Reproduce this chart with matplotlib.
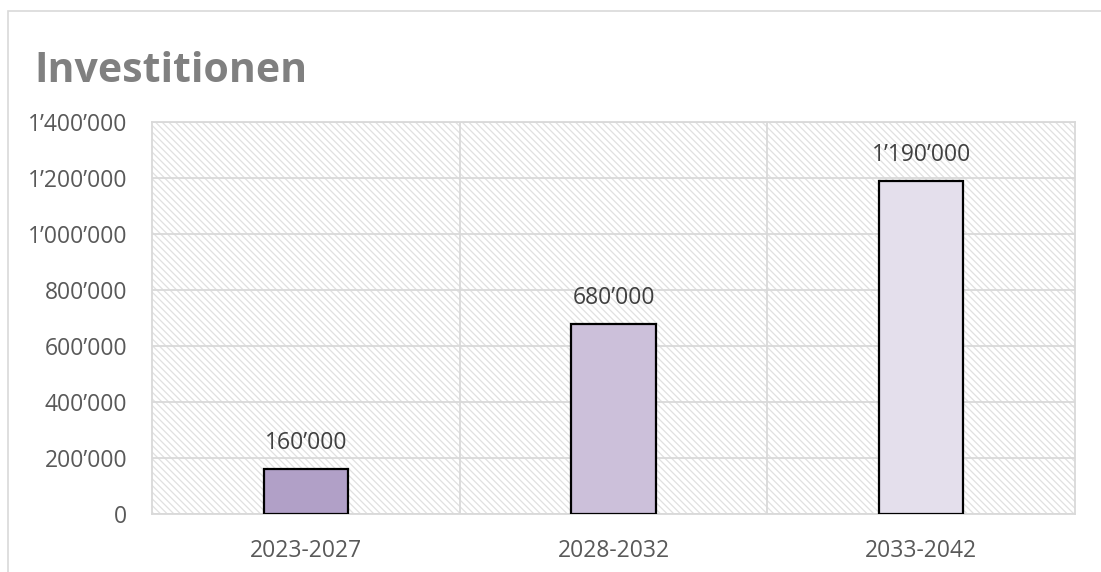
import matplotlib.pyplot as plt
from matplotlib.patches import Rectangle
from matplotlib.ticker import FuncFormatter

# Data
periods = ['2023-2027', '2028-2032', '2033-2042']
investments = [160000, 680000, 1190000]
bar_colors = ['#B1A0C7', '#CCC0DA', '#E4DFEC']

plt.rcParams['font.family'] = ['Open Sans', 'DejaVu Sans']
plt.rcParams['hatch.linewidth'] = 0.9


def swiss(v, pos=None):
    return f"{int(round(v)):,}".replace(",", "\u2019")


fig = plt.figure(figsize=(11.01, 5.72), dpi=100)
ax = fig.add_axes([152 / 1101, 1 - 514 / 572, (1075 - 152) / 1101, (514 - 122) / 572])

# outer chart frame
fig.patches.append(Rectangle((8 / 1101, -0.1), 1.2, 1 - 11 / 572 + 0.1,
                             transform=fig.transFigure, fill=False,
                             edgecolor='#D9D9D9', lw=1.2))

# hatched plot area
ax.add_patch(Rectangle((0, 0), 1, 1, transform=ax.transAxes, facecolor='white',
                       edgecolor='#E0E0E0', lw=0, hatch='\\' * 5, zorder=0))

x = range(len(periods))
bars = ax.bar(x, investments, width=0.275, color=bar_colors,
              edgecolor='black', linewidth=1.6, zorder=3)

for b, v in zip(bars, investments):
    ax.annotate(swiss(v), (b.get_x() + b.get_width() / 2, v),
                xytext=(0, 10), textcoords='offset points',
                ha='center', va='bottom', fontsize=16.5, color='#404040')

ax.set_xlim(-0.5, 2.5)
ax.set_ylim(0, 1400000)
ax.set_yticks(range(0, 1400001, 200000))
ax.yaxis.set_major_formatter(FuncFormatter(swiss))
ax.set_xticks(list(x))
ax.set_xticklabels(periods)
ax.set_xticks([0.5, 1.5], minor=True)

ax.grid(axis='y', which='major', color='#D9D9D9', lw=1.3, zorder=1)
ax.grid(axis='x', which='minor', color='#D9D9D9', lw=1.3, zorder=1)
ax.tick_params(which='both', length=0)
ax.tick_params(axis='y', labelsize=16.5, labelcolor='#595959', pad=18)
ax.tick_params(axis='x', labelsize=16.5, labelcolor='#595959', pad=18)
for s in ax.spines.values():
    s.set_color('#D9D9D9')
    s.set_linewidth(1.3)

fig.text(34 / 1101, 1 - 82 / 572, 'Investitionen', fontsize=29.5, fontweight='bold',
         color='#808080', va='baseline', ha='left')

plt.savefig('out.png', dpi=100)
plt.close()
